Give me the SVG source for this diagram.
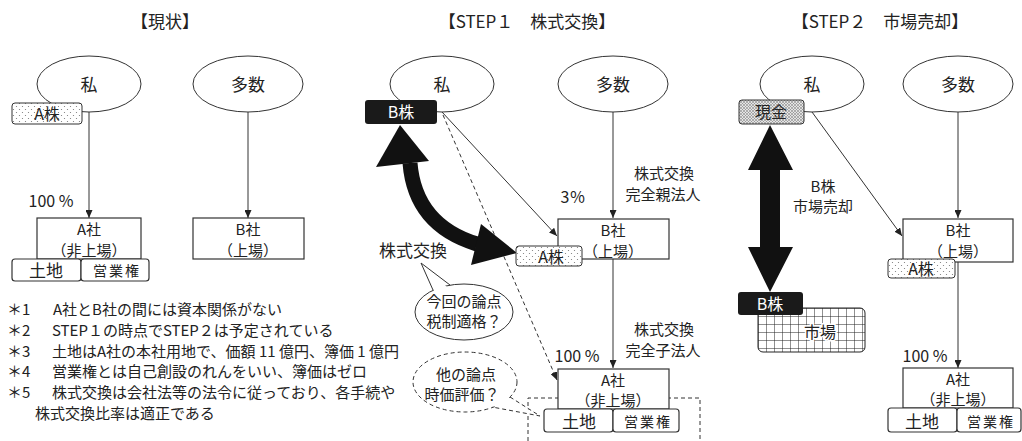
<svg xmlns="http://www.w3.org/2000/svg" width="1022" height="441" viewBox="0 0 1022 441">
<style>
text{font-family:"Noto Sans CJK JP","Noto Sans",sans-serif;fill:#222;}
.t{font-size:17px;text-anchor:middle;}
.n{font-size:16px;text-anchor:middle;}
.m{font-size:15px;text-anchor:middle;}
.s{font-size:14px;text-anchor:middle;letter-spacing:2px;}
.w{fill:#fff;}
.nt{font-size:15px;}
.ell{fill:#fff;stroke:#333;stroke-width:1;}
.box{fill:#fff;stroke:#333;stroke-width:1.2;}
.ln{stroke:#333;stroke-width:1;fill:none;}
.dl{stroke:#333;stroke-width:1;fill:none;stroke-dasharray:4 3;}
</style>
<defs>
<pattern id="dots" width="6" height="6" patternUnits="userSpaceOnUse">
<rect width="6" height="6" fill="#fff"/>
<circle cx="1.5" cy="1.5" r="0.6" fill="#777"/>
<circle cx="4.5" cy="4.5" r="0.6" fill="#777"/>
</pattern>
<pattern id="hatch" width="3" height="3" patternUnits="userSpaceOnUse">
<rect width="3" height="3" fill="#e4e4e4"/>
<path d="M0,3 L3,0 M0,0 L3,3" stroke="#888" stroke-width="0.6"/>
</pattern>
<pattern id="grid" width="8" height="8" patternUnits="userSpaceOnUse" x="758" y="308">
<rect width="8" height="8" fill="#fff"/>
<path d="M0,0 H8 M0,0 V8" stroke="#222" stroke-width="1"/>
</pattern>
<marker id="arr" markerWidth="8" markerHeight="7" refX="8" refY="3.5" orient="auto" markerUnits="userSpaceOnUse">
<path d="M0,0 L8,3.5 L0,7 z" fill="#222"/>
</marker>
</defs>

<!-- titles -->
<text class="t" x="165" y="28">【現状】</text>
<text class="t" x="527" y="28">【STEP１　株式交換】</text>
<text class="t" x="880" y="28">【STEP２　市場売却】</text>

<!-- connectors -->
<g id="connectors">
<line class="ln" x1="89" y1="112" x2="89" y2="218" marker-end="url(#arr)" stroke-width="1.6"/>
<line class="ln" x1="248" y1="112" x2="248" y2="218" marker-end="url(#arr)"/>
<line class="ln" x1="613" y1="112" x2="613" y2="218" marker-end="url(#arr)"/>
<line class="ln" x1="613" y1="259" x2="613" y2="368" marker-end="url(#arr)"/>
<line class="ln" x1="442" y1="112" x2="557" y2="236" marker-end="url(#arr)"/>
<line class="dl" x1="443" y1="115" x2="557" y2="380" marker-end="url(#arr)"/>
<line class="ln" x1="812" y1="112" x2="902" y2="236" marker-end="url(#arr)"/>
<line class="ln" x1="958" y1="112" x2="958" y2="218" marker-end="url(#arr)"/>
<line class="ln" x1="958" y1="262" x2="958" y2="368" marker-end="url(#arr)"/>
<!-- big curved exchange arrow -->
<path d="M410,163 Q415,225 477,244" fill="none" stroke="#111" stroke-width="15"/>
<polygon points="400,125 376,167 429,161" fill="#111"/>
<polygon points="517,253 481,224 471,265" fill="#111"/>
<!-- big vertical sale arrow -->
<polygon points="770,125 748,170 760,170 760,247 748,247 770,292 793,247 780,247 780,170 793,170" fill="#111"/>
<!-- dashed scope rect -->
<path class="dl" d="M528,441 V398 H700 V441"/>
</g>

<!-- panel 1 -->
<g id="p1-watashi"><ellipse class="ell" cx="89" cy="84" rx="52" ry="28"/><text class="t" x="89" y="91">私</text></g>
<g id="p1-tasu"><ellipse class="ell" cx="248" cy="84" rx="55" ry="28"/><text class="t" x="248" y="91">多数</text></g>
<g id="p1-akabu"><rect x="12" y="103" width="70" height="21" rx="3" fill="url(#dots)" stroke="#333"/><text class="n" x="47" y="120">A株</text></g>
<text class="n" x="51" y="207">100 %</text>
<g id="p1-asha"><rect class="box" x="37" y="218" width="104" height="41"/><text class="m" x="89" y="235">A社</text><text class="m" x="89" y="256">（非上場）</text></g>
<g id="p1-tochi"><rect class="box" x="12" y="259" width="69" height="22" rx="3"/><text class="t" x="46" y="277">土地</text></g>
<g id="p1-eigyo"><rect class="box" x="81" y="259" width="68" height="22" rx="3"/><text class="s" x="117" y="276">営業権</text></g>
<g id="p1-bsha"><rect class="box" x="193" y="218" width="111" height="41"/><text class="m" x="248" y="235">B社</text><text class="m" x="248" y="256">（上場）</text></g>

<!-- notes -->
<g id="notes" class="nt">
<text x="7" y="315">＊1</text><text x="53" y="315">A社とB社の間には資本関係がない</text>
<text x="7" y="336">＊2</text><text x="52" y="336">STEP１の時点でSTEP２は予定されている</text>
<text x="7" y="357">＊3</text><text x="52" y="357">土地はA社の本社用地で、価額 11 億円、簿価 1 億円</text>
<text x="7" y="377">＊4</text><text x="52" y="377">営業権とは自己創設のれんをいい、簿価はゼロ</text>
<text x="7" y="398">＊5</text><text x="52" y="398">株式交換は会社法等の法令に従っており、各手続や</text>
<text x="35" y="419">株式交換比率は適正である</text>
</g>

<!-- panel 2 -->
<g id="p2-watashi"><ellipse class="ell" cx="442" cy="84" rx="52" ry="28"/><text class="t" x="442" y="91">私</text></g>
<g id="p2-tasu"><ellipse class="ell" cx="613" cy="84" rx="55" ry="28"/><text class="t" x="613" y="91">多数</text></g>
<g id="p2-bkabu"><rect x="365" y="100" width="72" height="24" rx="3" fill="#1a1a1a"/><text class="n w" x="401" y="118">B株</text></g>
<text class="n" x="573" y="203">3％</text>
<g id="p2-oya-label"><text class="m" x="664" y="179">株式交換</text><text class="m" x="663" y="200">完全親法人</text></g>
<g id="p2-bsha"><rect class="box" x="558" y="219" width="111" height="40"/><text class="m" x="613" y="236">B社</text><text class="m" x="613" y="257">（上場）</text></g>
<g id="p2-akabu"><rect x="516" y="246" width="66" height="20" rx="3" fill="url(#dots)" stroke="#333"/><text class="n" x="551" y="263">A株</text></g>
<text class="t" x="413" y="257">株式交換</text>
<g id="p2-bubble1">
<ellipse class="ell" cx="464" cy="312" rx="49" ry="28"/>
<polygon points="435,293 421,263 448,288" fill="#fff"/>
<polyline class="ln" points="433,290 421,263 450,285"/>
<text class="m" x="464" y="307">今回の論点</text><text class="m" x="464" y="327">税制適格？</text>
</g>
<g id="p2-ko-label"><text class="m" x="664" y="335">株式交換</text><text class="m" x="663" y="356">完全子法人</text></g>
<text class="n" x="577" y="362">100 %</text>
<g id="p2-bubble2">
<ellipse class="dl" cx="465" cy="382" rx="52" ry="30" fill="#fff"/>
<polygon points="508,398 540,416 493,406" fill="#fff"/>
<polyline class="dl" points="510,397 540,416 492,407"/>
<text class="m" x="466" y="380">他の論点</text><text class="m" x="462" y="400">時価評価？</text>
</g>
<g id="p2-asha"><rect class="box" x="558" y="369" width="111" height="40"/><text class="m" x="613" y="386">A社</text><text class="m" x="613" y="406">（非上場）</text></g>
<g id="p2-tochi"><rect class="box" x="544" y="409" width="69" height="23" rx="3"/><text class="t" x="579" y="428">土地</text></g>
<g id="p2-eigyo"><rect class="box" x="613" y="409" width="66" height="23" rx="3"/><text class="s" x="648" y="427">営業権</text></g>

<!-- panel 3 -->
<g id="p3-watashi"><ellipse class="ell" cx="812" cy="84" rx="52" ry="28"/><text class="t" x="812" y="91">私</text></g>
<g id="p3-tasu"><ellipse class="ell" cx="958" cy="84" rx="55" ry="28"/><text class="t" x="958" y="91">多数</text></g>
<g id="p3-genkin"><rect x="739" y="100" width="65" height="24" rx="3" fill="url(#hatch)" stroke="#333"/><text class="n" x="771" y="118">現金</text></g>
<g id="p3-label"><text class="m" x="823" y="192">B株</text><text class="m" x="823" y="212">市場売却</text></g>
<g id="p3-bsha"><rect class="box" x="903" y="219" width="110" height="43"/><text class="m" x="958" y="236">B社</text><text class="m" x="958" y="257">（上場）</text></g>
<g id="p3-akabu"><rect x="888" y="259" width="67" height="19" rx="3" fill="url(#dots)" stroke="#333"/><text class="n" x="921" y="275">A株</text></g>
<g id="p3-shijo"><rect x="758" y="308" width="107" height="44" rx="5" fill="url(#grid)" stroke="#222"/><text class="n" x="820" y="338" style="paint-order:stroke;stroke:#fff;stroke-width:3px">市場</text></g>
<g id="p3-bkabu"><rect x="738" y="292" width="65" height="23" rx="3" fill="#1a1a1a"/><text class="n w" x="770" y="310">B株</text></g>
<text class="n" x="925" y="362">100 %</text>
<g id="p3-asha"><rect class="box" x="903" y="368" width="110" height="40"/><text class="m" x="958" y="385">A社</text><text class="m" x="958" y="405">（非上場）</text></g>
<g id="p3-tochi"><rect class="box" x="888" y="408" width="69" height="24" rx="3"/><text class="t" x="922" y="428">土地</text></g>
<g id="p3-eigyo"><rect class="box" x="957" y="408" width="64" height="24" rx="3"/><text class="s" x="991" y="427">営業権</text></g>
</svg>
